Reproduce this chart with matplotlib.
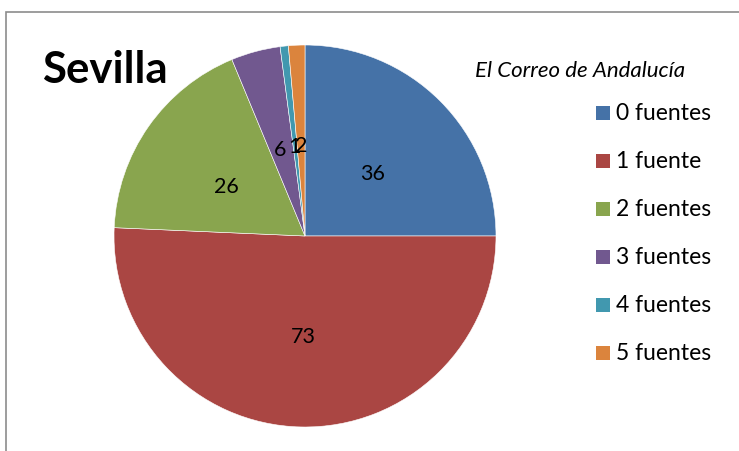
import matplotlib.pyplot as plt
from matplotlib.patches import Rectangle
from matplotlib.transforms import offset_copy

categorias = ['0 fuentes', '1 fuente', '2 fuentes', '3 fuentes', '4 fuentes', '5 fuentes']
valores = [36, 73, 26, 6, 1, 2]
colores = ['#4572A7', '#AA4643', '#89A54E', '#71588F', '#4198AF', '#DB843D']

W, H = 739, 452
fig = plt.figure(figsize=(W / 100, H / 100), dpi=100)
plt.rcParams['font.family'] = ['Lato', 'DejaVu Sans']

# marco del gráfico (se sale por la derecha y abajo)
fig.patches.append(Rectangle((5.5 / W, -0.05), 1.1, 1 - 12.5 / H + 0.05,
                             transform=fig.transFigure, fill=False,
                             edgecolor='#8c8c8c', lw=1.2))

# tarta
cx, cy, r = 305, H - 237, 191
ax = fig.add_axes([(cx - r) / W, (cy - r) / H, 2 * r / W, 2 * r / H])
wedges, textos = ax.pie(valores, colors=colores, startangle=90, counterclock=False,
                        labels=[str(v) for v in valores], labeldistance=0.5,
                        wedgeprops=dict(edgecolor='white', linewidth=0.4),
                        textprops=dict(fontsize=15.5, color='black'))
for t in textos:
    t.set_horizontalalignment('center')
    t.set_transform(offset_copy(t.get_transform(), fig=fig, y=-3.5, units='points'))
ax.set_xlim(-1, 1)
ax.set_ylim(-1, 1)
ax.set_aspect('equal')
ax.axis('off')

fig.text(42 / W, 1 - 70 / H, 'Sevilla', fontsize=31.5, fontweight='bold', va='center')
fig.text(475 / W, 1 - 71 / H, 'El Correo de Andalucía', fontsize=16, style='italic', va='center')

# leyenda
for i, (cat, col) in enumerate(zip(categorias, colores)):
    y = 114 + 48 * i
    fig.patches.append(Rectangle((596 / W, 1 - (y + 7) / H), 14 / W, 14 / H,
                                 transform=fig.transFigure, facecolor=col, edgecolor='none'))
    fig.text(616 / W, 1 - y / H, cat, fontsize=16.5, va='center')

fig.savefig('out.png', dpi=100)
